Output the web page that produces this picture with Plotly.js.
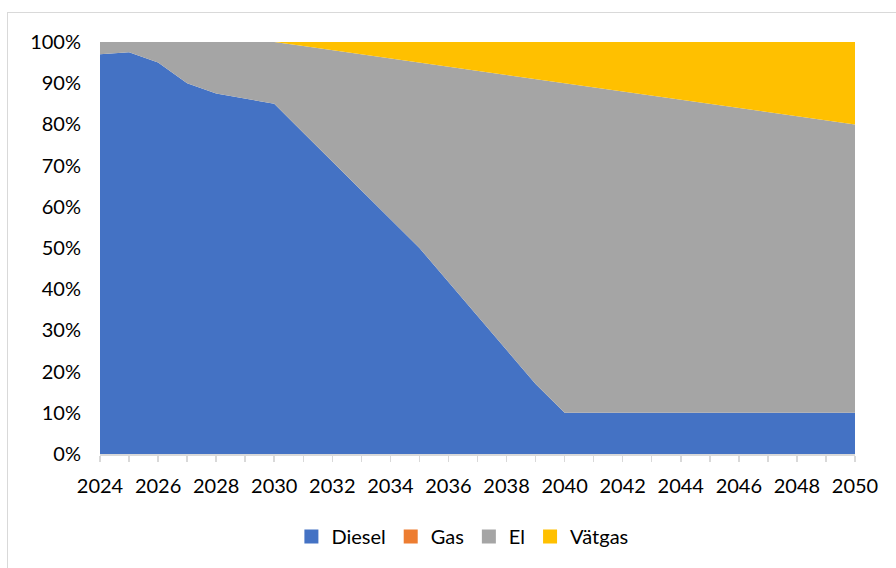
<!DOCTYPE html>
<html>
<head>
<meta charset="utf-8">
<script src="https://cdn.plot.ly/plotly-3.0.1.min.js"></script>
<style>
  html, body { margin: 0; padding: 0; background: #fff; }
  #frame { position: absolute; left: 7px; top: 12px; width: 1000px; height: 700px; border: 1px solid #d9d9d9; box-sizing: border-box; }
  #chart { position: absolute; left: 0; top: 0; width: 896px; height: 568px; }
</style>
</head>
<body>
<div id="frame"></div>
<div id="chart"></div>
<script>
const years = [2024,2025,2026,2027,2028,2029,2030,2031,2032,2033,2034,2035,2036,2037,2038,2039,2040,2041,2042,2043,2044,2045,2046,2047,2048,2049,2050];
const diesel = [97,97.5,95,90,87.5,86.3,85,78,71,64,57,50,41.75,33.5,25.25,17,10,10,10,10,10,10,10,10,10,10,10];
const gas = [0,0,0,0,0,0,0,0,0,0,0,0,0,0,0,0,0,0,0,0,0,0,0,0,0,0,0];
const vatgas = [0,0,0,0,0,0,0,1,2,3,4,5,6,7,8,9,10,11,12,13,14,15,16,17,18,19,20];
const el = years.map((_, i) => 100 - diesel[i] - gas[i] - vatgas[i]);
const names = ['Diesel','Gas','El','Vätgas'];
const colors = ['#4472C4','#ED7D31','#A5A5A5','#FFC000'];
const series = [diesel, gas, el, vatgas];

const traces = series.map((s, i) => ({
  x: years, y: s, name: names[i], type: 'scatter', mode: 'lines',
  stackgroup: 'one', line: {width: 0, color: colors[i]}, fillcolor: colors[i],
  showlegend: false, legendgroup: names[i]
}));
const legendTraces = names.map((n, i) => ({
  x: [null], y: [null], name: n, type: 'scatter', mode: 'markers',
  marker: {symbol: 'square', size: 14, color: colors[i]},
  showlegend: true, legendgroup: n
}));

const font = {family: 'Lato, "Open Sans", sans-serif', size: 20, color: '#000'};
const layout = {
  width: 896, height: 568,
  margin: {l: 100, r: 41, t: 42, b: 114},
  paper_bgcolor: 'rgba(0,0,0,0)', plot_bgcolor: 'rgba(0,0,0,0)',
  font: font,
  showlegend: true,
  legend: {orientation: 'h', x: 0.48, xanchor: 'center', y: -0.2, yanchor: 'middle',
           font: {family: font.family, size: 20, color: '#000'}, traceorder: 'normal',
           itemwidth: 30, itemsizing: 'trace'},
  xaxis: {
    range: [2024, 2050], tickmode: 'linear', tick0: 2024, dtick: 2,
    ticks: 'outside', ticklen: 6, tickcolor: '#d9d9d9', tickwidth: 1.5,
    minor: {dtick: 1, ticks: 'outside', ticklen: 6, tickcolor: '#d9d9d9', tickwidth: 1.5, showgrid: false},
    showline: true, linecolor: '#d9d9d9', linewidth: 2, showgrid: false, zeroline: false,
    ticklabelstandoff: 7, fixedrange: true
  },
  yaxis: {
    range: [0, 100], tickmode: 'linear', tick0: 0, dtick: 10, ticksuffix: '%',
    ticks: '', showgrid: false, zeroline: false, showline: false,
    ticklabelstandoff: 18, fixedrange: true
  }
};
Plotly.newPlot('chart', traces.concat(legendTraces), layout, {displayModeBar: false, staticPlot: true});
</script>
</body>
</html>
